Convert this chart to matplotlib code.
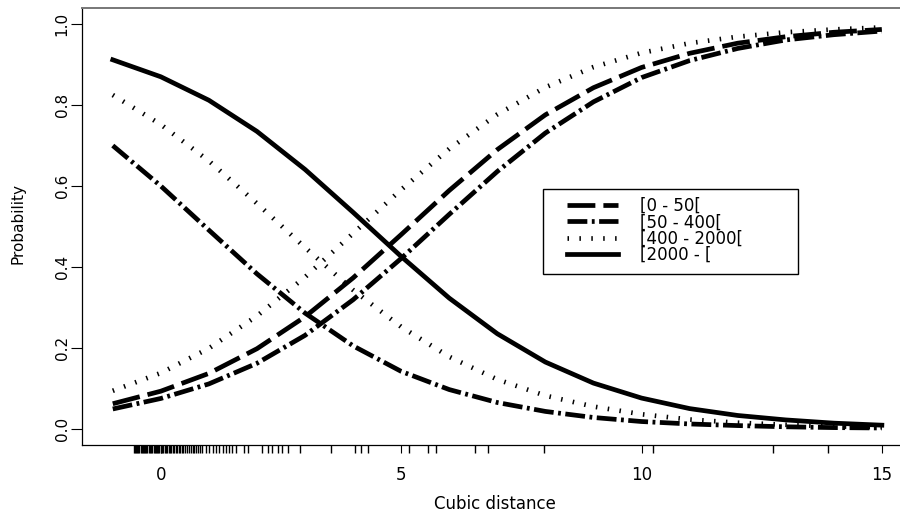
import matplotlib
matplotlib.use("Agg")
import matplotlib.pyplot as plt
import matplotlib.transforms as mtransforms
from matplotlib.patches import Rectangle
import numpy as np

# cubic distance, curves are evaluated at the integers
dist = list(range(-1, 16))

# rising curves
p_0_50 = [0.062, 0.093, 0.137, 0.198, 0.277, 0.373, 0.480, 0.589, 0.690,
          0.776, 0.843, 0.893, 0.928, 0.953, 0.969, 0.980, 0.987]
p_50_400_up = [0.049, 0.075, 0.111, 0.162, 0.231, 0.319, 0.421, 0.530, 0.636,
               0.731, 0.808, 0.868, 0.910, 0.940, 0.961, 0.974, 0.983]
p_400_2000_up = [0.094, 0.138, 0.199, 0.279, 0.375, 0.483, 0.591, 0.692, 0.777,
                 0.844, 0.894, 0.929, 0.953, 0.969, 0.980, 0.987, 0.992]

# falling curves
p_50_400_down = [0.700, 0.600, 0.491, 0.383, 0.286, 0.205, 0.142, 0.097, 0.065,
                 0.043, 0.028, 0.018, 0.012, 0.008, 0.005, 0.003, 0.002]
p_400_2000_down = [0.825, 0.752, 0.662, 0.557, 0.448, 0.343, 0.252, 0.178, 0.122,
                   0.082, 0.055, 0.036, 0.023, 0.015, 0.010, 0.006, 0.004]
p_2000 = [0.912, 0.870, 0.812, 0.735, 0.641, 0.535, 0.426, 0.323, 0.235,
          0.165, 0.113, 0.076, 0.050, 0.033, 0.022, 0.014, 0.009]

# observed distances (rug)
rug_x = [-0.56, -0.54, -0.52, -0.49, -0.47, -0.45, -0.42, -0.40, -0.37, -0.35,
         -0.33, -0.30, -0.28, -0.25, -0.22, -0.20, -0.18, -0.15, -0.12, -0.10,
         -0.08, -0.05, -0.03, 0.0, 0.02, 0.05, 0.08, 0.10, 0.13, 0.16, 0.19,
         0.22, 0.25, 0.28, 0.31, 0.34, 0.37, 0.40, 0.44, 0.47, 0.51, 0.55,
         0.58, 0.62, 0.66, 0.70, 0.74, 0.78, 0.82, 0.86,
         0.94, 1.01, 1.08, 1.15, 1.22, 1.29, 1.35, 1.42, 1.49, 1.56, 1.73,
         1.82, 2.11, 2.22, 2.32, 2.43, 2.53, 2.65, 2.89, 3.55, 4.03, 4.16,
         4.30, 5.16, 5.56, 5.72, 6.53, 6.80, 7.98, 10.24, 12.74, 13.88]

labels = ['[0 - 50[', '[50 - 400[', '[400 - 2000[', '[2000 - [']
xticks = [0, 5, 10, 15]
yticks = [0.0, 0.2, 0.4, 0.6, 0.8, 1.0]

LW = 3.4
dash = (5.9, 1.7)
dashdot = (4.2, 0.95, 0.6, 0.95)
dot = (0.32, 2.2)

fig = plt.figure(figsize=(9, 5.12), dpi=100)
ax = fig.add_axes([82 / 900, 1 - 445 / 512, 830.6 / 900, 437 / 512])

l1, = ax.plot(dist, p_0_50, color='black', lw=LW, dashes=dash, label=labels[0])
l2, = ax.plot(dist, p_50_400_up, color='black', lw=LW, dashes=dashdot, label=labels[1])
ax.plot(dist, p_50_400_down, color='black', lw=LW, dashes=dashdot)
l3, = ax.plot(dist, p_400_2000_up, color='black', lw=LW, dashes=dot, label=labels[2])
ax.plot(dist, p_400_2000_down, color='black', lw=LW, dashes=dot)
l4, = ax.plot(dist, p_2000, color='black', lw=LW, solid_joinstyle='round', label=labels[3])

ax.set_xlim(-1.64, 15.64)
ax.set_ylim(-0.04, 1.04)

# rug below the x axis
trans = mtransforms.blended_transform_factory(ax.transData, ax.transAxes)
ax.vlines(rug_x, 0, -8 / 437, transform=trans, color='black', lw=1.0, clip_on=False)

ax.set_xticks(xticks)
ax.set_xticklabels([str(t) for t in xticks])
ax.set_yticks(yticks)
ax.set_yticklabels(['%.1f' % t for t in yticks])
ax.tick_params(axis='x', direction='out', length=5.8, width=0.8, pad=9, labelsize=12)
ax.tick_params(axis='y', direction='out', length=8, width=0.8, pad=1, labelsize=11,
               labelrotation=90)
for lab in ax.get_yticklabels():
    lab.set_va('center')

for s in ax.spines.values():
    s.set_color('black')
    s.set_linewidth(0.9)
ax.spines['top'].set_color('#777777')
ax.spines['top'].set_linewidth(1.4)
ax.spines['right'].set_visible(False)

fig.text(495 / 900, 1 - 509 / 512, 'Cubic distance', ha='center', va='baseline',
         fontsize=12)
fig.text(18.5 / 900, 1 - 223 / 512, 'Probability', ha='center', va='center',
         rotation=90, fontsize=11)

leg = ax.legend(handles=[l1, l2, l3, l4], loc='upper left',
                bbox_to_anchor=(567 / 900, 1 - 197 / 512), bbox_transform=fig.transFigure,
                frameon=False, borderpad=0, borderaxespad=0, fontsize=12,
                handlelength=3.05, handletextpad=1.3, labelspacing=-0.1)
fig.patches.append(Rectangle((543 / 900, 1 - 274 / 512), 255 / 900, 85 / 512,
                             transform=fig.transFigure, fill=False,
                             edgecolor='black', lw=1))

fig.savefig('out.png', dpi=100)
